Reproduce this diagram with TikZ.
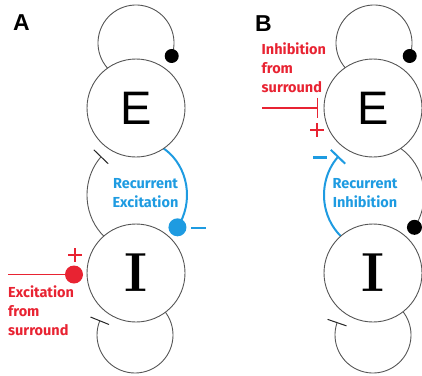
\documentclass[tikz,border=0pt]{standalone}
\usepackage{fontspec}
\newfontfamily\sansfont{Liberation Sans}
\newfontfamily\notefont{Fira Sans}
\usetikzlibrary{calc}
\definecolor{ringgray}{RGB}{85,85,85}
\definecolor{loopblue}{RGB}{30,155,225}
\definecolor{surroundred}{RGB}{232,35,50}
\begin{document}
\begin{tikzpicture}[x=1pt, y=-1pt,
  cell/.style={circle, draw=ringgray, line width=0.9pt, fill=white,
    minimum size=98pt, inner sep=0pt},
  efont/.style={font=\sansfont\fontsize{47}{47}\selectfont},
  ifont/.style={font=\bfseries\fontsize{55}{55}\selectfont},
  ring/.style={draw=ringgray, line width=0.9pt},
  tbar/.style={draw=black!85, line width=1pt},
  bluearc/.style={draw=loopblue, line width=2pt},
  signstroke/.style={line width=2.6pt},
  panel/.style={font=\sansfont\bfseries\fontsize{23}{23}\selectfont, inner sep=0pt},
  note/.style={font=\notefont\bfseries\fontsize{14.5}{19}\selectfont, inner sep=0pt},
]
\useasboundingbox (0,0) rectangle (422,375);

% ================= Panel A: recurrent excitation =================
\coordinate (AupC)  at (136,43);
\coordinate (AmidC) at (137,195);
\coordinate (AlowC) at (135,335);

% E -> E self excitation
\draw[ring] ($(AupC)+(20:38)$) arc[start angle=20, end angle=-250, radius=38];
% I -> I self inhibition
\draw[ring] ($(AlowC)+(-158:38)$) arc[start angle=-158, end angle=-420, radius=38];
\draw[tbar] ($(AlowC)+(-158:28)$) -- ($(AlowC)+(-158:48)$);
% I -> E inhibition
\draw[ring] ($(AmidC)+(-136:50 and 55)$) arc[start angle=-136, end angle=-240, x radius=50, y radius=55];
\draw[tbar] ($(AmidC)+(-136:40 and 45)$) -- ($(AmidC)+(-136:60 and 65)$);
% E -> I recurrent excitation
\draw[bluearc] ($(AmidC)+(-100:50 and 55)$) arc[start angle=-100, end angle=36, x radius=50, y radius=55];

\node[cell, efont] (AE) at (136,108) {E};
\node[cell, ifont] (AI) at (136,273) {I};

\coordinate (AselfDot) at ($(AupC)+(20:38)$);
\coordinate (ArecDot)  at ($(AmidC)+(36:50 and 55)$);
\fill[black] (AselfDot) circle[radius=7];
\fill[loopblue] (ArecDot) circle[radius=9];
\draw[loopblue, signstroke] ($(ArecDot)+(14,0.5)$) -- ($(ArecDot)+(29,0.5)$);

% excitation from surround onto I
\coordinate (AsurSrc) at (8,274.5);
\coordinate (AsurDot) at (74,274.5);
\draw[surroundred, line width=1.6pt] (AsurSrc) -- (AsurDot);
\fill[surroundred] (AsurDot) circle[radius=9];
\draw[surroundred, signstroke] (68,255) -- (82,255) (75,248) -- (75,262);

\node[note, text=surroundred, align=left, anchor=north west] (AsurNote) at (8,286) {Excitation\\from\\surround};
\node[note, text=loopblue, align=center, anchor=north] (ArecNote) at (145.5,178) {Recurrent\\Excitation};
\node[panel, anchor=north west] (Atag) at (13,14) {A};

% ================= Panel B: recurrent inhibition =================
\coordinate (BupC)  at (374,43);
\coordinate (BmidC) at (374,195);
\coordinate (BlowC) at (373,335);

% E -> E self excitation
\draw[ring] ($(BupC)+(20:38)$) arc[start angle=20, end angle=-250, radius=38];
% I -> I self inhibition
\draw[ring] ($(BlowC)+(-161:38)$) arc[start angle=-161, end angle=-420, radius=38];
\draw[tbar] ($(BlowC)+(-161:28)$) -- ($(BlowC)+(-161:48)$);
% E -> I excitation
\draw[ring] ($(BmidC)+(-80:50 and 55)$) arc[start angle=-80, end angle=36, x radius=50, y radius=55];
% I -> E recurrent inhibition
\draw[bluearc] ($(BmidC)+(-136:50 and 55)$) arc[start angle=-136, end angle=-240, x radius=50, y radius=55];
\draw[bluearc] ($(BmidC)+(-136:40 and 45)$) -- ($(BmidC)+(-136:60 and 65)$);

\node[cell, efont] (BE) at (373,108) {E};
\node[cell, ifont] (BI) at (373,273) {I};

\coordinate (BselfDot) at ($(BupC)+(20:38)$);
\coordinate (BexcDot)  at ($(BmidC)+(36:50 and 55)$);
\fill[black] (BselfDot) circle[radius=7];
\fill[black] (BexcDot) circle[radius=7.5];
\draw[loopblue, signstroke] (313,157.5) -- (327,157.5);

% inhibition from surround onto E
\coordinate (BsurSrc) at (262,108);
\coordinate (BsurBar) at (317.5,108);
\draw[surroundred, line width=1.6pt] (BsurSrc) -- (BsurBar);
\draw[surroundred, line width=1.6pt] ($(BsurBar)+(0,-10.5)$) -- ($(BsurBar)+(0,10)$);
\draw[surroundred, signstroke] (310,130) -- (324,130) (317,123) -- (317,137);

\node[note, text=surroundred, align=left, anchor=north west] (BsurNote) at (261.5,43) {Inhibition\\from\\surround};
\node[note, text=loopblue, align=center, anchor=north] (BrecNote) at (365,178) {Recurrent\\Inhibition};
\node[panel, anchor=north west] (Btag) at (255,15) {B};
\end{tikzpicture}
\end{document}
